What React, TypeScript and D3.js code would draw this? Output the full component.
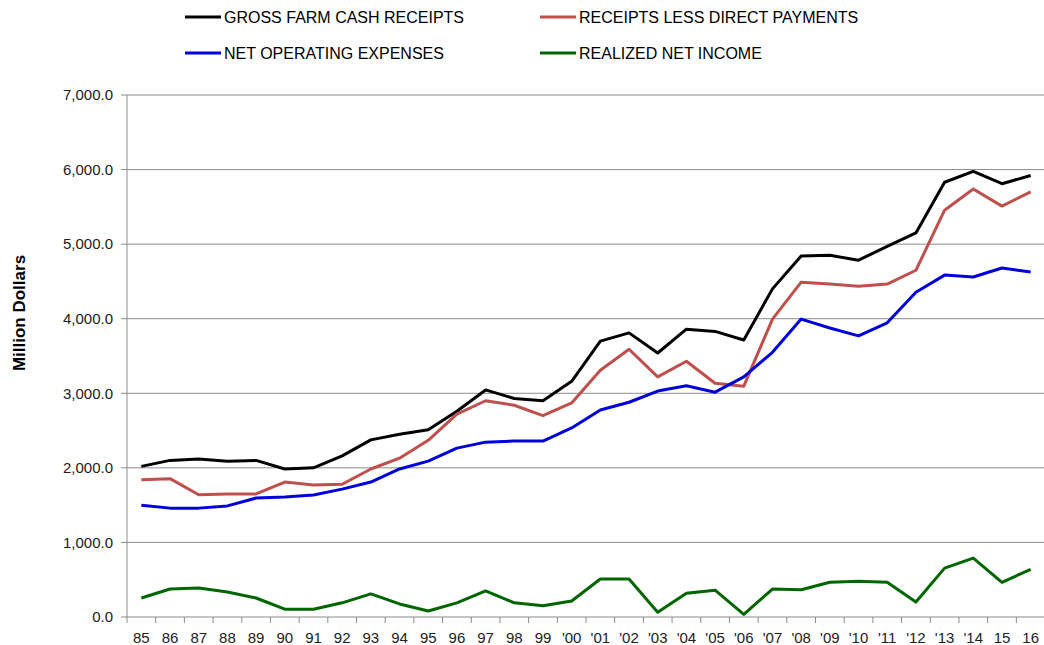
import * as d3 from "d3";
import React from "react";

const years = [
  "85", "86", "87", "88", "89", "90", "91", "92", "93", "94", "95", "96", "97", "98", "99", "'00",
  "'01", "'02", "'03", "'04", "'05", "'06", "'07", "'08", "'09", "'10", "'11", "'12", "'13", "'14", "15", "16",
];

const grossReceipts = [
  2020, 2100, 2120, 2090, 2100, 1985, 2000, 2160, 2375, 2450, 2510, 2760, 3045, 2930, 2900, 3160,
  3700, 3810, 3540, 3860, 3830, 3715, 4400, 4840, 4850, 4785, 4970, 5150, 5830, 5975, 5810, 5920,
];
const lessDirectPayments = [
  1840, 1855, 1640, 1650, 1650, 1810, 1770, 1780, 1985, 2130, 2370, 2720, 2900, 2840, 2700, 2870,
  3310, 3590, 3220, 3430, 3135, 3095, 3995, 4490, 4465, 4435, 4465, 4650, 5455, 5740, 5510, 5700,
];
const operatingExpenses = [
  1500, 1460, 1460, 1490, 1595, 1610, 1635, 1715, 1810, 1985, 2090, 2265, 2345, 2360, 2360, 2535,
  2775, 2880, 3030, 3100, 3015, 3220, 3550, 3995, 3875, 3770, 3945, 4355, 4585, 4560, 4680, 4625,
];
const netIncome = [
  255, 375, 390, 335, 255, 105, 105, 190, 310, 175, 80, 190, 350, 190, 150, 215,
  510, 510, 65, 320, 360, 35, 375, 365, 465, 480, 465, 200, 655, 790, 465, 640,
];

const yTicks = [0, 1000, 2000, 3000, 4000, 5000, 6000, 7000];

const series = [
  { name: "GROSS FARM CASH RECEIPTS", values: grossReceipts, color: "#000000" },
  { name: "RECEIPTS LESS DIRECT PAYMENTS", values: lessDirectPayments, color: "#C0504D" },
  { name: "NET OPERATING EXPENSES", values: operatingExpenses, color: "#0000DD" },
  { name: "REALIZED NET INCOME", values: netIncome, color: "#006600" },
];

const W = 1044;
const H = 645;
const plot = { left: 127, right: 1045, top: 95, bottom: 617 };
const font = "'Liberation Sans', Arial, sans-serif";

const App = () => {
  const x = d3.scaleBand<string>().domain(years).range([plot.left, plot.right]);
  const y = d3.scaleLinear().domain([0, 7000]).range([plot.bottom, plot.top]);
  const fmt = d3.format(",.1f");

  const line = (vals: number[]) =>
    d3
      .line<number>()
      .x((_, i) => (x(years[i]) as number) + x.bandwidth() / 2)
      .y((d) => y(d))(vals) as string;

  const boundaries = d3.range(years.length + 1).map((i) => plot.left + i * x.step());

  return (
    <svg
      width={W}
      height={H}
      style={{ position: "absolute", left: 0, top: 0, background: "white" }}
      fontFamily={font}
    >
      {/* gridlines */}
      {yTicks.map((t) => (
        <g key={t}>
          {t > 0 && (
            <line x1={plot.left} x2={plot.right} y1={y(t)} y2={y(t)} stroke="#8c8c8c" strokeWidth={1} />
          )}
          <line x1={plot.left - 6} x2={plot.left} y1={y(t)} y2={y(t)} stroke="#8c8c8c" />
          <text x={113} y={y(t)} dy="0.35em" textAnchor="end" fontSize={15} fill="#222">
            {fmt(t)}
          </text>
        </g>
      ))}

      {/* axes */}
      <line x1={plot.left} x2={plot.left} y1={plot.top} y2={plot.bottom} stroke="#8c8c8c" />
      <line x1={plot.left} x2={plot.right} y1={plot.bottom} y2={plot.bottom} stroke="#8c8c8c" />
      {boundaries.map((bx, i) => (
        <line key={i} x1={bx} x2={bx} y1={plot.bottom} y2={plot.bottom + 6} stroke="#8c8c8c" />
      ))}
      {years.map((yr) => (
        <text
          key={yr}
          x={(x(yr) as number) + x.bandwidth() / 2}
          y={643}
          textAnchor="middle"
          fontSize={15}
          fill="#222"
        >
          {yr}
        </text>
      ))}

      <text
        transform={`translate(25, 313) rotate(-90)`}
        textAnchor="middle"
        fontSize={17}
        fontWeight="bold"
        fill="#000"
      >
        Million Dollars
      </text>

      {/* lines */}
      {series.map((s) => (
        <path
          key={s.name}
          d={line(s.values)}
          fill="none"
          stroke={s.color}
          strokeWidth={3}
          strokeLinejoin="round"
        />
      ))}

      {/* legend */}
      {series.map((s, i) => {
        const lx = i % 2 === 0 ? 185 : 540;
        const ly = i < 2 ? 17 : 53;
        return (
          <g key={s.name}>
            <line x1={lx} x2={lx + 36} y1={ly} y2={ly} stroke={s.color} strokeWidth={3} />
            <text x={lx + 39} y={ly} dy="0.35em" fontSize={16} fill="#000">
              {s.name}
            </text>
          </g>
        );
      })}
    </svg>
  );
};

export default App;
